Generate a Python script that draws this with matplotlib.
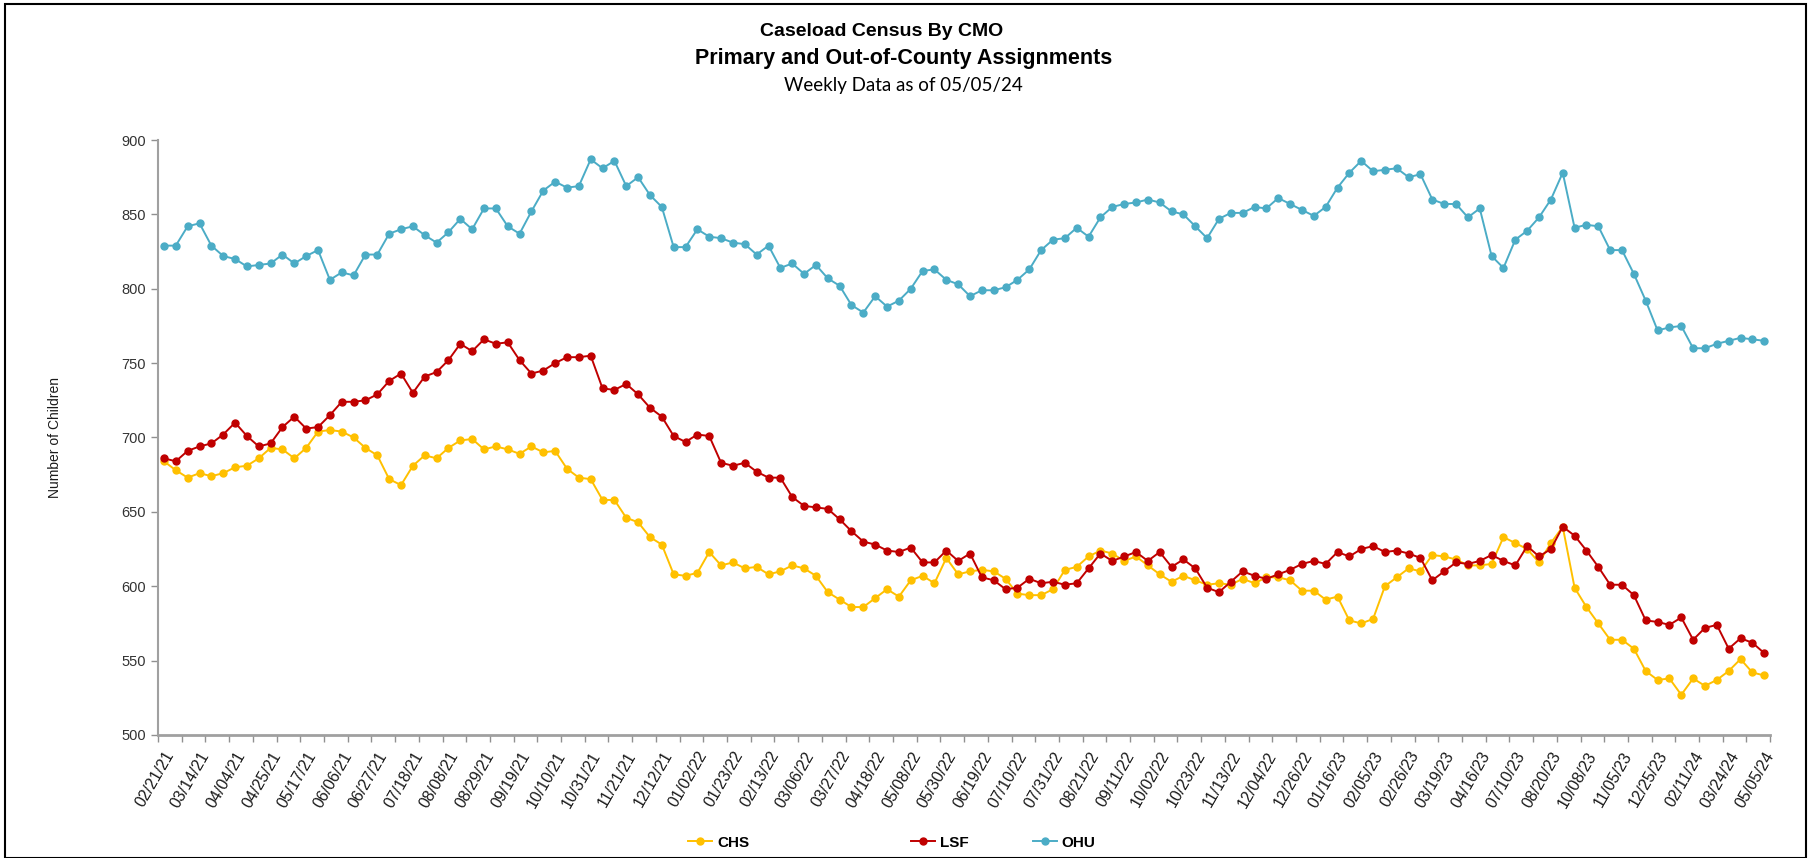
# Caseload census by CMO - weekly line chart
import matplotlib
matplotlib.use("Agg")
import matplotlib.pyplot as plt
from matplotlib.patches import Rectangle
import numpy as np

plt.rcParams['font.family'] = ['Liberation Sans', 'DejaVu Sans']

# tick labels (one every 3rd week on the category axis)
tick_labels = ['02/21/21', '03/14/21', '04/04/21', '04/25/21', '05/17/21', '06/06/21',
               '06/27/21', '07/18/21', '08/08/21', '08/29/21', '09/19/21', '10/10/21',
               '10/31/21', '11/21/21', '12/12/21', '01/02/22', '01/23/22', '02/13/22',
               '03/06/22', '03/27/22', '04/18/22', '05/08/22', '05/30/22', '06/19/22',
               '07/10/22', '07/31/22', '08/21/22', '09/11/22', '10/02/22', '10/23/22',
               '11/13/22', '12/04/22', '12/26/22', '01/16/23', '02/05/23', '02/26/23',
               '03/19/23', '04/16/23', '07/10/23', '08/20/23', '10/08/23', '11/05/23',
               '12/25/23', '02/11/24', '03/24/24', '05/05/24']

chs = [684, 678, 673, 676, 674, 676, 680, 681, 686, 693,
       692, 686, 693, 704, 705, 704, 700, 693, 688, 672,
       668, 681, 688, 686, 693, 698, 699, 692, 694, 692,
       689, 694, 690, 691, 679, 673, 672, 658, 658, 646,
       643, 633, 628, 608, 607, 609, 623, 614, 616, 612,
       613, 608, 610, 614, 612, 607, 596, 591, 586, 586,
       592, 598, 593, 604, 607, 602, 619, 608, 610, 611,
       610, 605, 595, 594, 594, 598, 611, 613, 620, 624,
       622, 617, 620, 614, 608, 603, 607, 604, 601, 602,
       601, 605, 602, 606, 606, 604, 597, 597, 591, 593,
       577, 575, 578, 600, 606, 612, 610, 621, 620, 618,
       614, 614, 615, 633, 629, 625, 616, 629, 640, 599,
       586, 575, 564, 564, 558, 543, 537, 538, 527, 538,
       533, 537, 543, 551, 542, 540]

lsf = [686, 684, 691, 694, 696, 702, 710, 701, 694, 696,
       707, 714, 706, 707, 715, 724, 724, 725, 729, 738,
       743, 730, 741, 744, 752, 763, 758, 766, 763, 764,
       752, 743, 745, 750, 754, 754, 755, 733, 732, 736,
       729, 720, 714, 701, 697, 702, 701, 683, 681, 683,
       677, 673, 673, 660, 654, 653, 652, 645, 637, 630,
       628, 624, 623, 626, 616, 616, 624, 617, 622, 606,
       604, 598, 599, 605, 602, 603, 601, 602, 612, 622,
       617, 620, 623, 617, 623, 613, 618, 612, 599, 596,
       603, 610, 607, 605, 608, 611, 615, 617, 615, 623,
       620, 625, 627, 623, 624, 622, 619, 604, 610, 616,
       615, 617, 621, 617, 614, 627, 620, 625, 640, 634,
       624, 613, 601, 601, 594, 577, 576, 574, 579, 564,
       572, 574, 558, 565, 562, 555]

ohu = [829, 829, 842, 844, 829, 822, 820, 815, 816, 817,
       823, 817, 822, 826, 806, 811, 809, 823, 823, 837,
       840, 842, 836, 831, 838, 847, 840, 854, 854, 842,
       837, 852, 866, 872, 868, 869, 887, 881, 886, 869,
       875, 863, 855, 828, 828, 840, 835, 834, 831, 830,
       823, 829, 814, 817, 810, 816, 807, 802, 789, 784,
       795, 788, 792, 800, 812, 813, 806, 803, 795, 799,
       799, 801, 806, 813, 826, 833, 834, 841, 835, 848,
       855, 857, 858, 860, 858, 852, 850, 842, 834, 847,
       851, 851, 855, 854, 861, 857, 853, 849, 855, 868,
       878, 886, 879, 880, 881, 875, 877, 860, 857, 857,
       848, 854, 822, 814, 833, 839, 848, 860, 878, 841,
       843, 842, 826, 826, 810, 792, 772, 774, 775, 760,
       760, 763, 765, 767, 766, 765]

x = np.arange(len(ohu))

fig = plt.figure(figsize=(18.1, 8.58), dpi=100)
ax = fig.add_axes([0.0873, 0.1434, 0.8907, 0.6934])

l1, = ax.plot(x, chs, color='#FFC000', lw=1.4, marker='o', ms=5, label='CHS')
l2, = ax.plot(x, lsf, color='#C00000', lw=1.4, marker='o', ms=5, label='LSF')
l3, = ax.plot(x, ohu, color='#4BACC6', lw=1.4, marker='o', ms=5, label='OHU')

ax.set_xlim(-0.5, len(x) - 0.5)
ax.set_ylim(500, 900)
ax.set_yticks(np.arange(500, 901, 50))

# labels every 3 categories, tick marks every 2
ax.set_xticks(x[::3])
ax.set_xticklabels(tick_labels, rotation=60, ha='right', va='top',
                   rotation_mode='anchor', fontsize=11.5, color='#1a1a1a')
ax.set_xticks(np.arange(-0.5, len(x), 2), minor=True)
ax.tick_params(axis='x', which='major', length=0, pad=10)
ax.tick_params(axis='x', which='minor', length=5, color='#909090', width=1)
ax.tick_params(axis='y', length=5, color='#909090', width=1,
               labelsize=10.5, labelcolor='#333333')

for s in ['top', 'right']:
    ax.spines[s].set_visible(False)
ax.spines['left'].set_color('#a0a0a0')
ax.spines['left'].set_linewidth(1.5)
ax.spines['bottom'].set_color('#a0a0a0')
ax.spines['bottom'].set_linewidth(2)

ax.set_ylabel('Number of Children', fontsize=10, color='#1a1a1a', labelpad=43)

# titles
fig.text(0.487, 0.963, 'Caseload Census By CMO', ha='center', va='center',
         fontsize=14, fontweight='bold')
fig.text(0.499, 0.932, 'Primary and Out-of-County Assignments', ha='center',
         va='center', fontsize=15.5, fontweight='bold')
fig.text(0.499, 0.900, 'Weekly Data as of 05/05/24', ha='center', va='center',
         fontsize=13.5, family=['Lato', 'DejaVu Sans'])

# legend entries sit at uneven spots along the bottom
for h, xc in [(l1, 0.397), (l2, 0.519), (l3, 0.588)]:
    fig.legend(handles=[h], loc='center', bbox_to_anchor=(xc, 0.018), frameon=False,
               handlelength=1.6, handletextpad=0.3,
               prop={'weight': 'bold', 'size': 11})

# thin frame round the picture
fig.patches.append(Rectangle((0.003, 0.0), 0.995, 0.995, transform=fig.transFigure,
                             fill=False, edgecolor='black', lw=1.5))

fig.savefig('out.png', dpi=100)
